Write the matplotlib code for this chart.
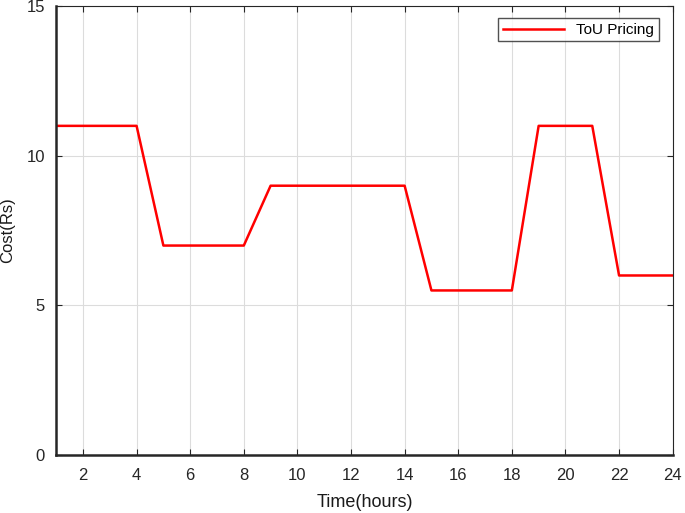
import numpy as np
import matplotlib.pyplot as plt

plt.rcParams['font.family'] = ['Liberation Sans', 'DejaVu Sans']

# hourly time-of-use price
hours = np.arange(1, 25)
cost = [11, 11, 11, 11, 7, 7, 7, 7, 9, 9, 9, 9, 9, 9,
        5.5, 5.5, 5.5, 5.5, 11, 11, 11, 6, 6, 6]
xticks = np.arange(2, 25, 2)
yticks = [0, 5, 10, 15]

fig = plt.figure(figsize=(6.85, 5.13), dpi=100, facecolor='w')
ax = fig.add_axes([0.082, 0.113, 0.9, 0.875])

ax.plot(hours, cost, color='#ff0000', lw=1.8, label='ToU Pricing')

ax.set_xlim(1, 24)
ax.set_ylim(0, 15)
ax.set_xticks(xticks)
ax.set_yticks(yticks)
ax.grid(True, color='#dcdcdc', lw=0.8)
ax.tick_params(direction='in', top=True, right=True, labelsize=12, colors='#262626', length=4)
ax.tick_params(axis='x', pad=9)
ax.tick_params(axis='y', pad=8)
for s in ax.spines.values():
    s.set_color('#262626')
ax.spines['left'].set_linewidth(1.8)
ax.spines['bottom'].set_linewidth(1.8)

ax.set_xlabel('Time(hours)', fontsize=13, color='#1a1a1a', labelpad=8)
ax.set_ylabel('Cost(Rs)', fontsize=12, color='#1a1a1a', labelpad=8)

leg = ax.legend(loc='upper right', fontsize=11, fancybox=False, edgecolor='#262626',
                handlelength=4, borderpad=0.3, bbox_to_anchor=(0.99, 0.99))
leg.get_frame().set_linewidth(1.0)

plt.savefig('out.png', dpi=100)
